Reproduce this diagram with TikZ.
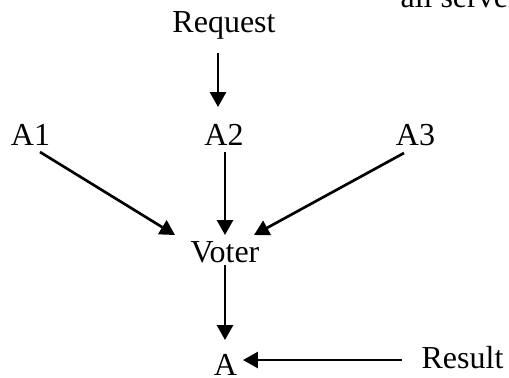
\documentclass[tikz,border=0pt]{standalone}
\usepackage{fontspec}
\setmainfont{Liberation Serif}
\usetikzlibrary{arrows.meta,calc}
\begin{document}
\begin{tikzpicture}[x=0.375pt,y=-0.375pt,
  lbl/.style={inner sep=0pt,anchor=base,font=\fontsize{12}{14}\selectfont},
  arr/.style={line width=1pt,-{Triangle[length=5.6pt,width=6pt]}}]
\useasboundingbox (0,0) rectangle (509,377);
\node[lbl,anchor=base west] (note) at (400,7) {all servers};
\node[lbl] (req) at (224,32) {Request};
\node[lbl] (a1) at (30.5,145) {A1};
\node[lbl] (a2) at (224,145) {A2};
\node[lbl] (a3) at (415.5,145) {A3};
\node[lbl] (voter) at (225,262) {Voter};
\node[lbl] (a) at (225.5,375) {A};
\node[lbl] (res) at (462.5,368) {Result};
\draw[arr] ($(req.base)+(-6,21)$) -- ($(a2.base)+(-6,-38)$);
\draw[arr] ($(a1.base)+(9.5,7)$) -- ($(voter.base)+(-50,-27)$);
\draw[arr] ($(a2.base)+(1,7)$) -- ($(voter.base)+(0,-27)$);
\draw[arr] ($(a3.base)+(-11.5,8)$) -- ($(voter.base)+(29,-27)$);
\draw[arr] ($(voter.base)+(0,3)$) -- ($(a.base)+(-0.5,-35)$);
\draw[arr] ($(res.base)+(-60.5,-8)$) -- ($(a.base)+(17.5,-15)$);
\end{tikzpicture}
\end{document}
